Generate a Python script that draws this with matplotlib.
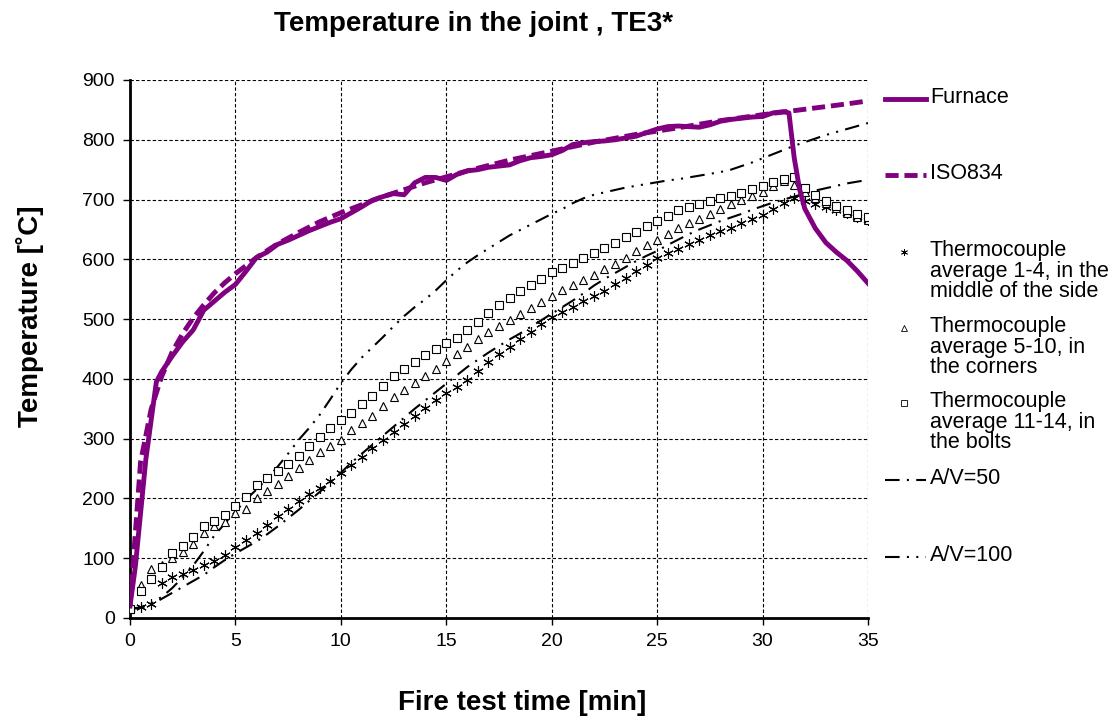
import numpy as np
import matplotlib
matplotlib.use("Agg")
import matplotlib.pyplot as plt
from matplotlib.lines import Line2D

plt.rcParams["font.family"] = ["Liberation Sans", "DejaVu Sans"]

# time axis for the thermocouple and calculated curves (every 0.5 min)
t = np.arange(0, 35.01, 0.5)

# furnace measurement, own time steps
t_furnace = [0, 0.25, 0.5, 0.75, 1.0, 1.25, 1.5, 2, 2.5, 3, 3.5, 4, 4.5, 5, 5.5, 6, 6.5, 7, 7.5, 8,
             8.5, 9, 9.5, 10, 10.5, 11, 11.5, 12, 12.5, 13, 13.5, 14, 14.5, 15, 15.5, 16, 16.5, 17,
             17.5, 18, 18.5, 19, 19.5, 20, 20.5, 21, 21.5, 22, 22.5, 23, 23.5, 24, 24.5, 25, 25.5,
             26, 26.5, 27, 27.5, 28, 28.5, 29, 29.5, 30, 30.5, 31, 31.25, 31.5, 31.75, 32, 32.5,
             33, 33.5, 34, 34.5, 35]
furnace = [20, 85, 175, 265, 330, 395, 412, 438, 462, 482, 515, 530, 545, 558, 580, 603, 612, 625,
           632, 640, 648, 655, 662, 668, 678, 688, 699, 705, 710, 708, 728, 737, 737, 732, 742, 748,
           750, 754, 756, 758, 765, 770, 772, 775, 782, 792, 795, 797, 798, 800, 803, 806, 812, 818,
           822, 823, 822, 821, 825, 831, 834, 836, 838, 839, 845, 847, 845, 770, 718, 685, 652, 628,
           612, 598, 580, 560]

# standard fire curve
t_iso = [0, 0.5, 1, 1.5, 2, 2.5, 3, 3.5, 4, 4.5, 5, 6, 7, 8, 9, 10, 12, 14, 16, 18, 20, 22, 24,
         26, 28, 30, 32, 34, 35]
iso834 = [20, 261, 349, 404, 445, 476, 502, 524, 544, 561, 576, 603, 626, 645, 663, 678, 705, 728,
          748, 766, 781, 796, 809, 820, 832, 842, 851, 860, 865]

tc_1_4 = [15, 18, 24, 58, 68, 74, 81, 88, 95, 106, 118, 130, 143, 156, 170, 183, 196, 207, 218, 230,
          243, 256, 270, 284, 298, 311, 324, 338, 351, 364, 376, 387, 398, 413, 428, 442, 454, 466,
          478, 491, 503, 512, 521, 530, 538, 547, 558, 569, 580, 591, 602, 610, 617, 625, 632, 640,
          647, 653, 660, 667, 675, 685, 695, 702, 698, 693, 688, 683, 677, 671, 665]

tc_5_10 = [15, 55, 82, 89, 100, 111, 123, 143, 154, 160, 175, 182, 200, 213, 225, 238, 251, 265,
           277, 288, 298, 315, 327, 338, 355, 370, 381, 393, 405, 417, 430, 442, 454, 466, 478, 489,
           499, 509, 519, 529, 539, 548, 557, 565, 574, 583, 593, 603, 614, 624, 633, 642, 652, 660,
           667, 676, 684, 692, 699, 706, 713, 722, 731, 725, 712, 703, 694, 686, 678, 671, 665]

tc_11_14 = [15, 45, 66, 86, 108, 121, 136, 154, 163, 172, 188, 202, 222, 235, 246, 257, 271, 287,
            303, 318, 331, 343, 358, 372, 388, 404, 416, 428, 440, 450, 460, 469, 482, 496, 510,
            523, 535, 547, 557, 567, 578, 586, 594, 603, 611, 619, 628, 637, 646, 655, 664, 673,
            683, 688, 692, 697, 702, 706, 711, 717, 723, 729, 735, 737, 719, 708, 698, 690, 682,
            676, 671]

av_50 = [15, 17, 22, 32, 42, 52, 62, 72, 85, 97, 108, 118, 128, 140, 153, 167, 181, 196, 211, 227,
         243, 260, 275, 290, 305, 320, 335, 350, 364, 378, 392, 406, 420, 432, 444, 455, 466, 476,
         487, 498, 509, 520, 531, 543, 556, 567, 577, 587, 597, 606, 614, 624, 633, 642, 650, 657,
         664, 670, 676, 683, 689, 695, 700, 705, 710, 715, 719, 723, 727, 730, 733]

av_100 = [15, 18, 25, 35, 50, 68, 88, 112, 138, 158, 178, 198, 215, 233, 253, 275, 298, 318, 340,
          366, 393, 416, 436, 453, 470, 488, 505, 520, 533, 548, 565, 581, 595, 607, 618, 629, 640,
          649, 658, 667, 676, 684, 694, 702, 708, 712, 716, 720, 723, 726, 729, 732, 734, 737, 740,
          743, 746, 750, 756, 762, 769, 776, 783, 790, 796, 802, 808, 813, 818, 823, 828]

purple = "#800080"
W, H = 1116, 720

fig = plt.figure(figsize=(W / 100, H / 100), dpi=100)
ax = fig.add_axes([130 / W, 1 - 618 / H, (868 - 130) / W, (618 - 80) / H])

dash_dot = (0, (7, 3.5, 1, 3.5))
dash_dot_dot = (0, (7, 3.5, 1, 3.5, 1, 3.5))
iso_dash = (0, (2.7, 1.2))

ax.plot(t, av_50, color="black", lw=1.5, ls=dash_dot, zorder=3)
ax.plot(t, av_100, color="black", lw=1.5, ls=dash_dot_dot, zorder=3)
ax.plot(t, tc_1_4, ls="none", marker=(6, 2, 0), ms=7.5, mew=0.8, color="black", zorder=4)
ax.plot(t, tc_5_10, ls="none", marker="^", ms=5.5, mew=0.8, mfc="white", mec="black", zorder=4)
ax.plot(t, tc_11_14, ls="none", marker="s", ms=6, mew=0.8, mfc="white", mec="black", zorder=4)
ax.plot(t_iso, iso834, color=purple, lw=3.5, ls=iso_dash, zorder=5)
ax.plot(t_furnace, furnace, color=purple, lw=3.5, zorder=5)

ax.set_xlim(0, 35)
ax.set_ylim(0, 900)
ax.set_xticks(range(0, 36, 5))
ax.set_yticks(range(0, 901, 100))
ax.grid(True, color="black", lw=0.8, ls=(0, (3, 2)))
ax.set_axisbelow(True)
for s in ["top", "right"]:
    ax.spines[s].set_visible(False)
for s in ["left", "bottom"]:
    ax.spines[s].set_linewidth(2)
ax.tick_params(direction="out", length=5, width=1, labelsize=14, pad=6)

fig.text(474 / W, 1 - 24 / H, "Temperature in the joint , TE3*", ha="center", va="center",
         fontsize=20, fontweight="bold")
fig.text(30 / W, 1 - 316 / H, "Temperature [˚C]", ha="center", va="center", rotation=90,
         fontsize=20, fontweight="bold")
fig.text(522 / W, 1 - 703 / H, "Fire test time [min]", ha="center", va="center",
         fontsize=20, fontweight="bold")

# legend beside the plot area
def fy(y):
    return 1 - y / H

entries = [
    (99, dict(color=purple, lw=3.5), None, "Furnace"),
    (175, dict(color=purple, lw=3.5, ls=iso_dash), None, "ISO834"),
    (252, None, dict(marker=(6, 2, 0), ms=5, mew=0.6, color="black"),
     "Thermocouple\naverage 1-4, in the\nmiddle of the side"),
    (328, None, dict(marker="^", ms=4, mew=0.6, mfc="white", mec="black"),
     "Thermocouple\naverage 5-10, in\nthe corners"),
    (403, None, dict(marker="s", ms=4, mew=0.6, mfc="white", mec="black"),
     "Thermocouple\naverage 11-14, in\nthe bolts"),
    (480, dict(color="black", lw=1.5, ls=dash_dot), None, "A/V=50"),
    (557, dict(color="black", lw=1.5, ls=dash_dot_dot), None, "A/V=100"),
]
for y, line_kw, marker_kw, label in entries:
    if line_kw is not None:
        fig.add_artist(Line2D([885 / W, 926 / W], [fy(y), fy(y)], transform=fig.transFigure,
                              **line_kw))
    if marker_kw is not None:
        fig.add_artist(Line2D([904 / W], [fy(y)], transform=fig.transFigure, ls="none",
                              **marker_kw))
    fig.text(930 / W, fy(y - 12), label, ha="left", va="top", fontsize=15.5, linespacing=0.98)

fig.savefig("out.png", dpi=100)
